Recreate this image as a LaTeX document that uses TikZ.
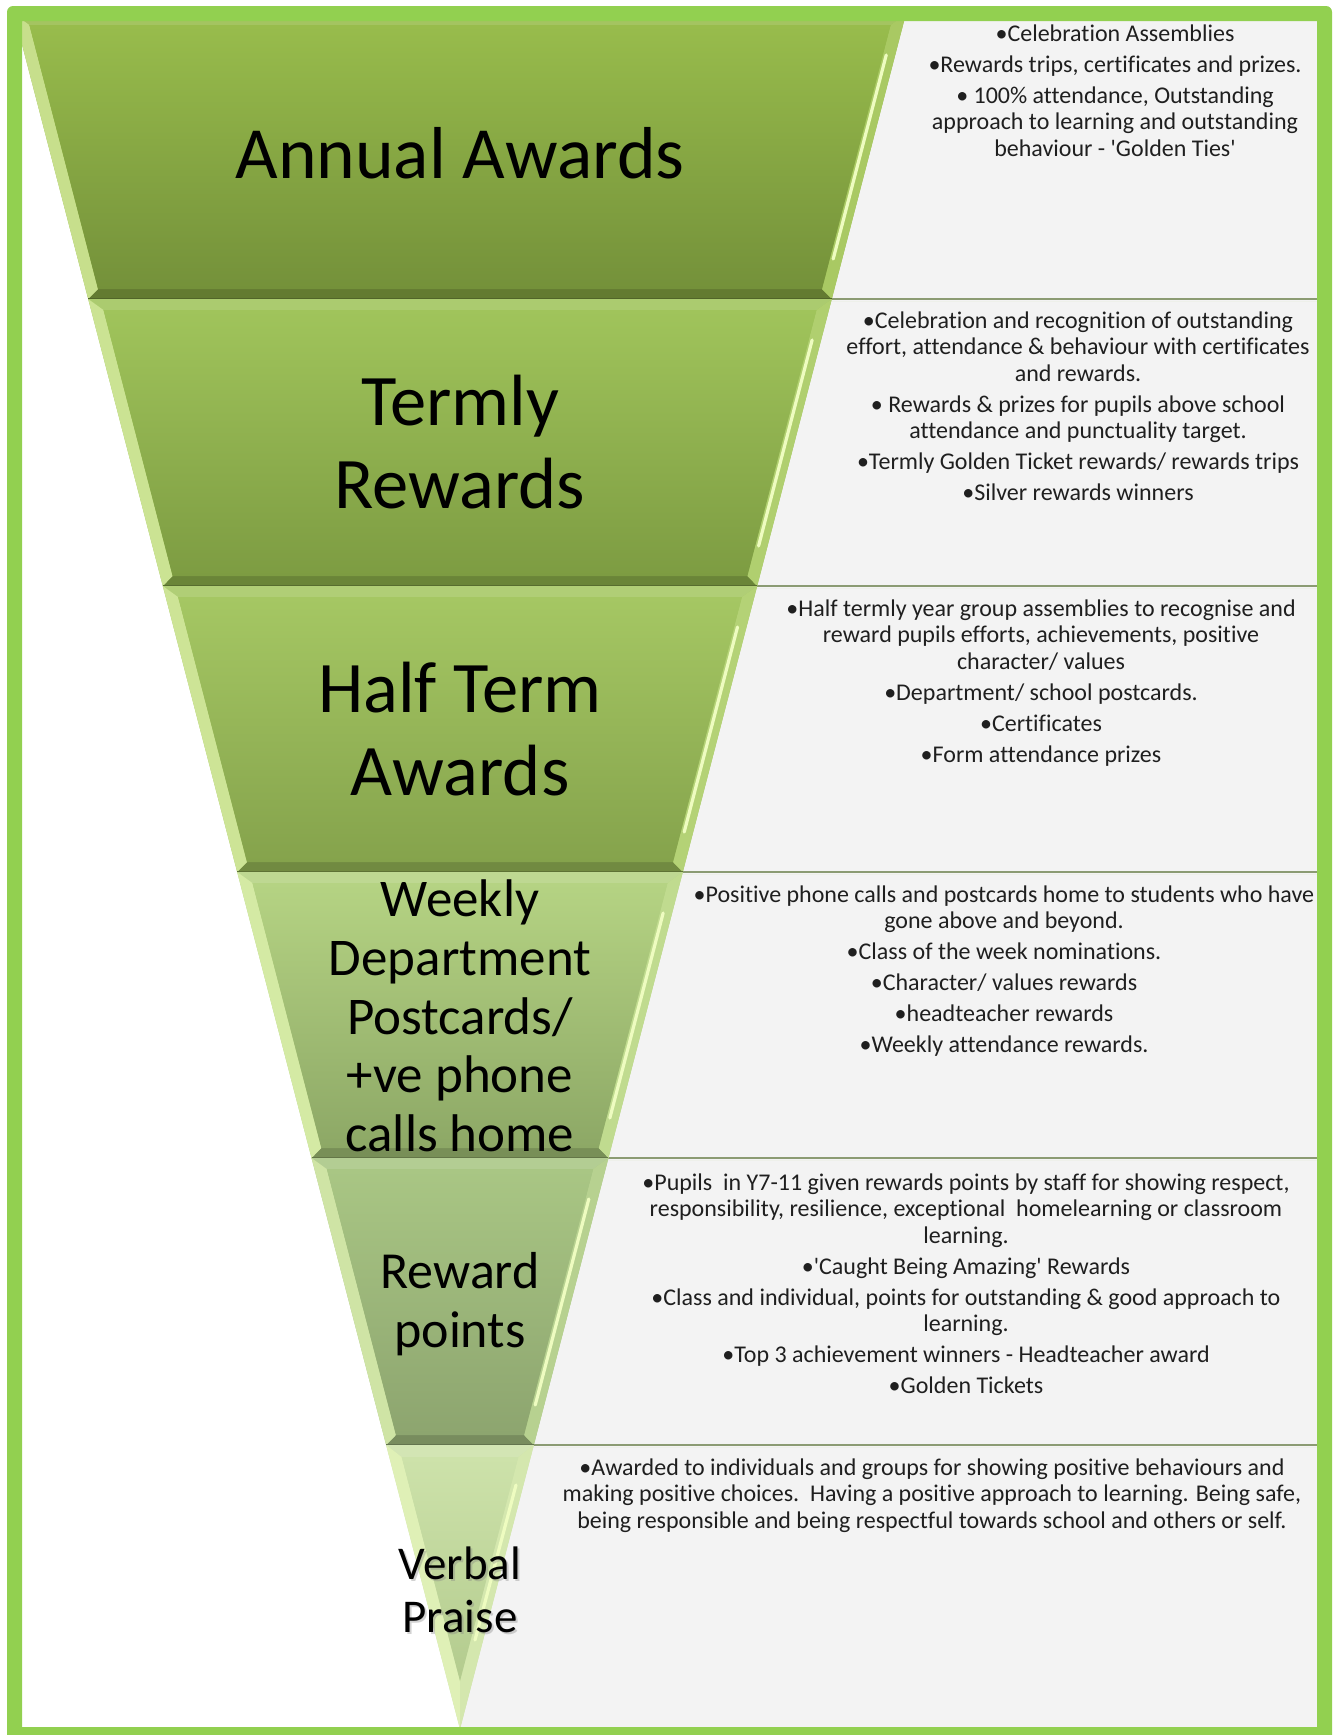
\documentclass[tikz,border=0pt]{standalone}
\usepackage{fontspec}
\setmainfont{Carlito}[Ligatures={NoCommon,NoContextual}]
\definecolor{frameg}{HTML}{92D050}
\definecolor{panelg}{HTML}{F3F3F3}
\definecolor{sepg}{HTML}{8B9B73}
\definecolor{hl}{HTML}{EEFCC0}
\definecolor{b1t}{HTML}{98BC4C}\definecolor{b1b}{HTML}{74913A}
\definecolor{b2t}{HTML}{A0C45B}\definecolor{b2b}{HTML}{7D9C42}
\definecolor{b3t}{HTML}{A5C763}\definecolor{b3b}{HTML}{85A34C}
\definecolor{b4t}{HTML}{B5D383}\definecolor{b4b}{HTML}{8DA866}
\definecolor{b5t}{HTML}{A9C684}\definecolor{b5b}{HTML}{8DA56F}
\definecolor{b6t}{HTML}{CDE2AA}\definecolor{b6b}{HTML}{B3CB8E}
\newcommand\fband[4]{%
 \pgfmathsetmacro\xa{460-0.26*(1729-#1)}%
 \pgfmathsetmacro\xb{920-\xa}%
 \pgfmathsetmacro\xd{460-0.26*(1729-#2)}%
 \pgfmathsetmacro\xc{920-\xd}%
 \pgfmathsetmacro\yti{#1+11}%
 \pgfmathsetmacro\ybi{#2-10}%
 \pgfmathsetmacro\ia{460-0.26*(1729-\yti)+12.4}%
 \pgfmathsetmacro\ib{920-\ia}%
 \pgfmathsetmacro\id{460-0.26*(1729-\ybi)+12.4}%
 \pgfmathsetmacro\ic{920-\id}%
 \pgfmathsetmacro\ha{\yti+30}%
 \pgfmathsetmacro\hb{\ybi-30}%
 \pgfmathsetmacro\hra{460+0.26*(1729-\ha)-9}%
 \pgfmathsetmacro\hrb{460+0.26*(1729-\hb)-9}%
 \fill[#3] (\xa,#1) -- (\xb,#1) -- (\xc,#2) -- (\xd,#2) -- cycle;
 \fill[#3!88!white] (\xa,#1) -- (\xb,#1) -- (\ib,\yti) -- (\ia,\yti) -- cycle;
 \fill[#4!85!black] (\xd,#2) -- (\xc,#2) -- (\ic,\ybi) -- (\id,\ybi) -- cycle;
 \fill[#3!45!hl] (\xa,#1) -- (\ia,\yti) -- (\id,\ybi) -- (\xd,#2) -- cycle;
 \fill[#3!80!hl] (\xb,#1) -- (\ib,\yti) -- (\ic,\ybi) -- (\xc,#2) -- cycle;
 \shade[top color=#3, bottom color=#4] (\ia,\yti) -- (\ib,\yti) -- (\ic,\ybi) -- (\id,\ybi) -- cycle;
 \draw[hl, line width=1.6pt, line cap=round] (\hra,\ha) -- (\hrb,\hb);
 \draw[#4!70!black, line width=0.7pt] (\xd,#2) -- (\xc,#2);
}
\tikzset{
 lbl/.style={align=center, inner sep=0pt, text=black},
 ptxt/.style={align=center, inner sep=0pt, anchor=north, text=black!88,
   font=\fontsize{12}{13.25}\selectfont},
 sepline/.style={draw=sepg, line width=1.1pt}
}
\begin{document}
\begin{tikzpicture}[x=0.5pt,y=-0.5pt]
\useasboundingbox (0,0) rectangle (1338,1735);
\clip (0,0) rectangle (1338,1735);
\fill[white] (0,0) rectangle (1338,1735);
\fill[white] (22,21) rectangle (1317,1727);
\begin{scope}
\clip (22,21) rectangle (1317,1727);
% panels
\fill[panelg] (460,14) rectangle (1317,1729);
\foreach \yy in {299,586,872,1158,1445}{
  \draw[sepline] (460,\yy) -- (1317,\yy);
  \draw[white!85!sepg, line width=0.6pt] (460,\yy+2.5) -- (1317,\yy+2.5);
}
% funnel bands
\fband{14}{299}{b1t}{b1b}
\fband{299}{586}{b2t}{b2b}
\fband{586}{872}{b3t}{b3b}
\fband{872}{1158}{b4t}{b4b}
\fband{1158}{1445}{b5t}{b5b}
% bottom triangle band
\fill[b6t] (386.16,1445) -- (533.84,1445) -- (460,1729) -- cycle;
\fill[b6t!88!white] (386.16,1445) -- (533.84,1445) -- (518.32,1457) -- (401.68,1457) -- cycle;
\fill[b6t!45!hl] (386.16,1445) -- (401.68,1457) -- (460,1681) -- (460,1729) -- cycle;
\fill[b6t!80!hl] (533.84,1445) -- (518.32,1457) -- (460,1681) -- (460,1729) -- cycle;
\shade[top color=b6t, bottom color=b6b] (401.68,1457) -- (518.32,1457) -- (460,1681) -- cycle;
\draw[hl, line width=1.6pt, line cap=round] (516,1485) -- (475,1640);
\end{scope}
% funnel labels
\node[lbl, font=\fontsize{36.8}{41.5}\selectfont] (l1) at (460,153) {Annual Awards};
\node[lbl, font=\fontsize{36.3}{41.5}\selectfont] (l2) at (460,442.5) {Termly\\Rewards};
\node[lbl, font=\fontsize{36.3}{41.5}\selectfont] (l3) at (460,729.5) {Half Term\\Awards};
\node[lbl, font=\fontsize{26.5}{29.35}\selectfont] (l4) at (460,1016) {Weekly\\Department\\Postcards/\\+ve phone\\calls home};
\node[lbl, font=\fontsize{26}{29.5}\selectfont] (l5) at (460,1304.5) {Reward\\points};
\node[lbl, font=\fontsize{23.5}{26.5}\selectfont, text=black!50, opacity=0.35] (l6s) at (462,1592) {Verbal\\Praise};
\node[lbl, font=\fontsize{23.5}{26.5}\selectfont] (l6) at (460,1589.5) {Verbal\\Praise};
% panel texts
\node[ptxt] (p1) at (1115,24) {•Celebration Assemblies\\[2.25pt]
•Rewards trips, certificates and prizes.\\[2.25pt]
• 100\% attendance, Outstanding\\
approach to learning and outstanding\\
behaviour - \textquotesingle Golden Ties\textquotesingle};
\node[ptxt] (p2) at (1078,311) {•Celebration and recognition of outstanding\\
effort, attendance \& behaviour with certificates\\
and rewards.\\[2.25pt]
• Rewards \& prizes for pupils above school\\
attendance and punctuality target.\\[2.25pt]
•Termly Golden Ticket rewards/ rewards trips\\[2.25pt]
•Silver rewards winners};
\node[ptxt] (p3) at (1041,599) {•Half termly year group assemblies to recognise and\\
reward pupils efforts, achievements, positive\\
character/ values\\[2.25pt]
•Department/ school postcards.\\[2.25pt]
•Certificates\\[2.25pt]
•Form attendance prizes};
\node[ptxt] (p4) at (1004,885) {•Positive phone calls and postcards home to students who have\\
gone above and beyond.\\[2.25pt]
•Class of the week nominations.\\[2.25pt]
•Character/ values rewards\\[2.25pt]
•headteacher rewards\\[2.25pt]
•Weekly attendance rewards.};
\node[ptxt] (p5) at (966,1173) {•Pupils\ \ in Y7-11 given rewards points by staff for showing respect,\\
responsibility, resilience, exceptional\ \ homelearning or classroom\\
learning.\\[2.25pt]
•\textquotesingle Caught Being Amazing\textquotesingle\ Rewards\\[2.25pt]
•Class and individual, points for outstanding \& good approach to\\
learning.\\[2.25pt]
•Top 3 achievement winners - Headteacher award\\[2.25pt]
•Golden Tickets};
\node[ptxt] (p6) at (932,1458) {•Awarded to individuals and groups for showing positive behaviours and\\
making positive choices.\ \ Having a positive approach to learning. Being safe,\\
being responsible and being respectful towards school and others or self.};
% frame
\fill[frameg, even odd rule] [rounded corners=3pt] (7,6) rectangle (1332,1760) [sharp corners] (22,21) rectangle (1317,1727);
\end{tikzpicture}
\end{document}
